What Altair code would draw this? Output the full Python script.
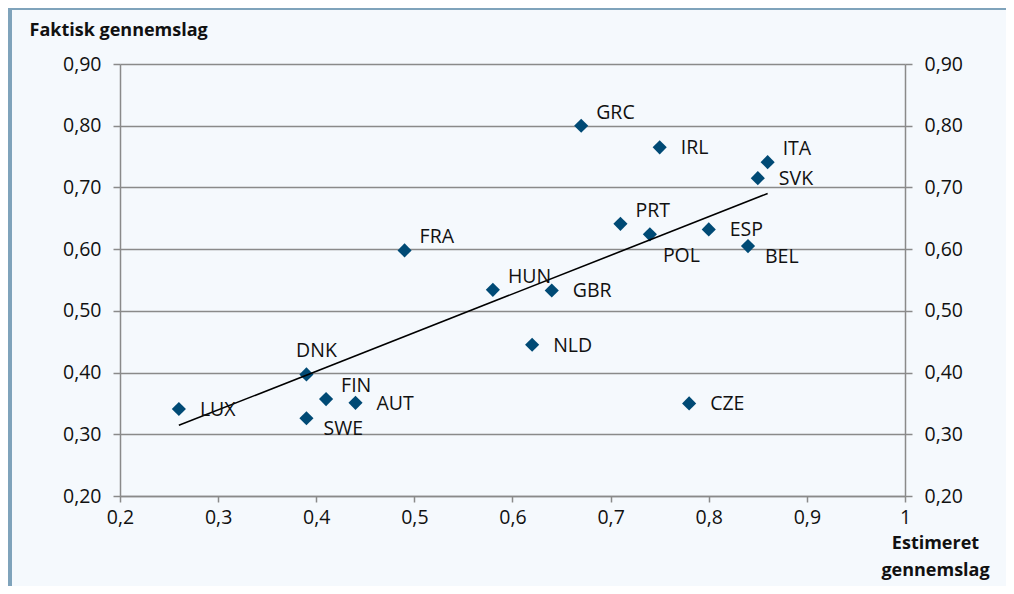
import altair as alt
import pandas as pd

countries = ["GRC", "IRL", "ITA", "SVK", "PRT", "POL", "ESP", "BEL", "FRA",
             "HUN", "GBR", "NLD", "DNK", "FIN", "AUT", "SWE", "LUX", "CZE"]
estimated = [0.67, 0.75, 0.86, 0.85, 0.71, 0.74, 0.80, 0.84, 0.49,
             0.58, 0.64, 0.62, 0.39, 0.41, 0.44, 0.39, 0.26, 0.78]
actual = [0.800, 0.765, 0.741, 0.715, 0.641, 0.624, 0.632, 0.605, 0.598,
          0.534, 0.533, 0.445, 0.397, 0.357, 0.351, 0.326, 0.341, 0.350]

label_right = ["IRL", "SVK", "ESP", "GBR", "NLD", "AUT", "LUX", "CZE"]
label_upright = ["GRC", "ITA", "PRT", "FRA", "HUN", "FIN"]
label_downright = ["BEL", "SWE"]
label_down = ["POL"]
label_up = ["DNK"]

y_title = "Faktisk gennemslag"
x_title = ["Estimeret", "gennemslag"]

df = pd.DataFrame({"country": countries, "est": estimated, "act": actual})

FONT = "Open Sans"
FS = 19.5
BG = "#f5f9fd"
GRID = "#8a8a8a"
PT = "#004a75"

xscale = alt.Scale(domain=[0.2, 1.0], nice=False, zero=False)
yscale = alt.Scale(domain=[0.2, 0.9], nice=False, zero=False)

x_enc = alt.X("est:Q", scale=xscale, axis=alt.Axis(
    values=[0.2, 0.3, 0.4, 0.5, 0.6, 0.7, 0.8, 0.9, 1.0],
    labelExpr="replace(format(datum.value, '.1~f'), '.', ',')",
    labelFlush=False, labelOverlap=False,
    grid=False, domainColor=GRID, domainWidth=1.5, tickColor=GRID, tickWidth=1.5,
    tickSize=6, labelPadding=6, labelFont=FONT, labelFontSize=FS, labelColor="#111",
    title=x_title, titleFont=FONT, titleFontSize=18, titleFontWeight="bold",
    titleColor="#111", titleX=815, titleY=38, titleAlign="center",
    titleBaseline="top", titleLineHeight=27))

y_left = alt.Y("act:Q", scale=yscale, axis=alt.Axis(
    orient="left", values=[0.2, 0.3, 0.4, 0.5, 0.6, 0.7, 0.8, 0.9],
    labelExpr="replace(format(datum.value, '.2f'), '.', ',')",
    labelFlush=False, labelOverlap=False,
    grid=True, gridColor=GRID, gridWidth=1.5,
    domainColor=GRID, domainWidth=1.5, tickColor=GRID, tickWidth=1.5, tickSize=7,
    labelPadding=12, labelFont=FONT, labelFontSize=FS, labelColor="#111",
    title=y_title, titleFont=FONT, titleFontSize=18, titleFontWeight="bold",
    titleColor="#111", titleAngle=0, titleX=-91, titleY=-34, titleAlign="left",
    titleBaseline="middle"))

y_right = alt.Y("act:Q", scale=yscale, axis=alt.Axis(
    orient="right", values=[0.2, 0.3, 0.4, 0.5, 0.6, 0.7, 0.8, 0.9],
    labelExpr="replace(format(datum.value, '.2f'), '.', ',')",
    labelFlush=False, labelOverlap=False,
    grid=False, domainColor=GRID, domainWidth=1.5, tickColor=GRID, tickWidth=1.5,
    tickSize=7, labelPadding=12, labelFont=FONT, labelFontSize=FS, labelColor="#111",
    title=None))

y_none = alt.Y("act:Q", scale=yscale, axis=None)

base = alt.Chart(df)

trend = base.transform_regression("est", "act").mark_line(
    color="#000", strokeWidth=1.6).encode(x=x_enc, y=y_right)

points = base.mark_point(shape="diamond", filled=True, size=200, color=PT,
                         opacity=1).encode(x=x_enc, y=y_left)


def labels(group, dx, dy, align="left"):
    return base.transform_filter(
        alt.FieldOneOfPredicate(field="country", oneOf=group)
    ).mark_text(align=align, baseline="middle", dx=dx, dy=dy, font=FONT,
                fontSize=FS, color="#111").encode(
        x=x_enc, y=y_none, text="country:N")


frame = alt.Chart(alt.Data(values=[{}])).mark_rect(color="#7fa3bb").encode(
    x=alt.value(-112), x2=alt.value(-108), y=alt.value(-56), y2=alt.value(530))
frame_top = alt.Chart(alt.Data(values=[{}])).mark_rect(color="#7fa3bb").encode(
    x=alt.value(-112), x2=alt.value(890), y=alt.value(-56), y2=alt.value(-54))

chart = alt.layer(
    points, trend,
    labels(label_right, 21, 1),
    labels(label_upright, 15, -13),
    labels(label_downright, 17, 11),
    labels(label_down, 13, 22),
    labels(label_up, 10, -23, align="center"),
    frame, frame_top,
).resolve_axis(y="independent").properties(
    width=785, height=432,
    autosize=alt.AutoSizeParams(type="none"),
    padding={"left": 112, "top": 56, "right": 101, "bottom": 90},
    background=BG,
).configure_view(stroke=None)

chart.save("out.html", embed_options={"renderer": "svg", "actions": False})
